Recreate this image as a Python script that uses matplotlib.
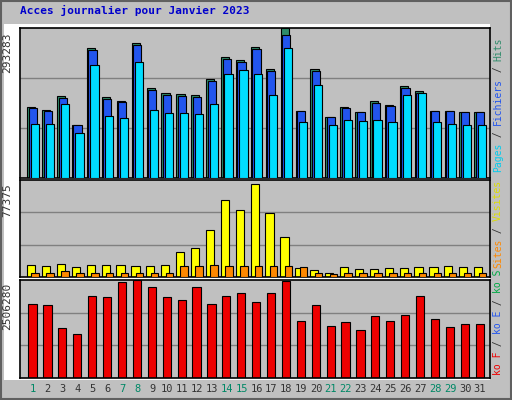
import matplotlib
matplotlib.use("Agg")
import matplotlib.pyplot as plt
import numpy as np

days = list(range(1, 32))
weekend = [1, 7, 8, 14, 15, 21, 22, 28, 29]
hits = [139700,133800,159400,104300,253900,157400,151500,263700,175200,165300,163300,161400,192900,236200,230300,255800,
        212500,293283,131900,212500,120000,139700,129900,149600,143700,179100,169200,131900,131900,129900,129900]
files = [h*0.986 for h in hits]
files[17] = 279500
pages = [106300,106300,145600,88600,220400,122000,118100,226300,133800,127900,127900,126000,145600,202700,210600,202700,
         161400,253900,110200,181100,104300,114100,112200,114100,110200,161400,165300,110200,106300,104300,104300]
visits = [9600,8400,10400,7600,9600,9600,9600,8400,8400,9600,20000,23100,37500,61400,53500,74200,
          51100,31900,7200,5600,3200,8000,6400,6400,7200,7200,8000,8000,8800,8000,8000]
sites = [3200,3200,4800,3200,3200,3200,3200,3200,3200,3200,8400,8400,9200,8400,8400,8400,
         8400,8400,8000,3200,2400,3200,3200,3200,3200,3200,3200,3200,3200,3200,3200]
kb = [1893000,1866000,1280000,1120000,2106000,2079000,2453000,2506000,2319000,2079000,1999000,2319000,1893000,2106000,
      2186000,1946000,2186000,2479000,1466000,1866000,1333000,1440000,1226000,1573000,1466000,1600000,2106000,
      1520000,1306000,1386000,1386000]
max_top, max_mid, max_bot = 293283, 77375, 2506280

W, H = 512, 400
fig = plt.figure(figsize=(5.12, 4.0), dpi=100, facecolor='#c0c0c0')
bg = fig.add_axes([0, 0, 1, 1]); bg.set_axis_off()
bg.add_patch(plt.Rectangle((0.002, 0.002), 0.996, 0.996, fill=False, ec='#606060', lw=1.5, transform=bg.transAxes))
bg.add_patch(plt.Rectangle((4/W, 1-380/H), 486/W, 356/H, fc='white', ec='none', transform=bg.transAxes, zorder=0))

def ax_at(top, bottom):
    return fig.add_axes([20/W, (H-bottom)/H, 470/W, (bottom-top)/H])

x = np.array(days)
xl = (0.13, 31.67)
mono = 'DejaVu Sans Mono'

def style(ax, ymax, label):
    ax.set_facecolor('#c0c0c0')
    ax.set_xlim(*xl); ax.set_ylim(0, ymax)
    for f in (1/3, 2/3):
        ax.axhline(ymax*f, color='#808080', lw=1, zorder=0)
    ax.set_xticks([]); ax.set_yticks([])
    for s in ax.spines.values():
        s.set_color('black'); s.set_linewidth(1.2)
    ax.text(-0.016, 0.97, label, transform=ax.transAxes, rotation=90, ha='right', va='top',
            fontsize=8, family=mono, color='#333333')

a1 = ax_at(28, 178)
style(a1, max_top, str(max_top))
kw = dict(ec='black', lw=0.8, align='edge')
a1.bar(x-0.38, hits, 0.55, color='#2e8b6a', **kw, zorder=2)
a1.bar(x-0.28, files, 0.55, color='#2255ee', **kw, zorder=3)
a1.bar(x-0.15, pages, 0.55, color='#00ddff', **kw, zorder=4)

a2 = ax_at(180, 277)
style(a2, max_mid, str(max_mid))
a2.bar(x-0.4, visits, 0.55, color='#ffff00', **kw, zorder=2)
a2.bar(x-0.1, sites, 0.5, color='#ff8800', **kw, zorder=3)

a3 = ax_at(280, 378)
style(a3, max_bot, str(max_bot))
a3.bar(x-0.3, kb, 0.55, color='#ee0000', **kw, zorder=2)

for d in days:
    fig.text((20 + (d - xl[0]) / (xl[1]-xl[0]) * 470)/W, 1-389/H, str(d), ha='center', va='center',
             fontsize=7.5, family=mono, color='#008866' if d in weekend else '#333333')

fig.text(20/W, 1-10/H, 'Acces journalier pour Janvier 2023', fontsize=8, family=mono,
         weight='bold', color='#0000cc', ha='left', va='center')

CH = 7 * 0.602 * 100 / 72  # char advance in px

def side(yc, parts):
    ypix = yc
    for txt, col in parts:
        fig.text(498/W, 1-ypix/H, txt, rotation=90, ha='center', va='bottom', fontsize=7,
                 family=mono, color=col)
        ypix -= len(txt) * CH

side(172, [('Pages', '#00ccee'), (' / ', '#333333'), ('Fichiers', '#2255ee'), (' / ', '#333333'), ('Hits', '#2e8b6a')])
side(268, [('Sites', '#ff8800'), (' / ', '#333333'), ('Visites', '#dddd00')])
side(375, [('ko F', '#ee0000'), (' / ', '#333333'), ('ko E', '#2255ee'), (' / ', '#333333'), ('ko S', '#00aa44')])

fig.savefig('out.png', dpi=100, facecolor=fig.get_facecolor())
